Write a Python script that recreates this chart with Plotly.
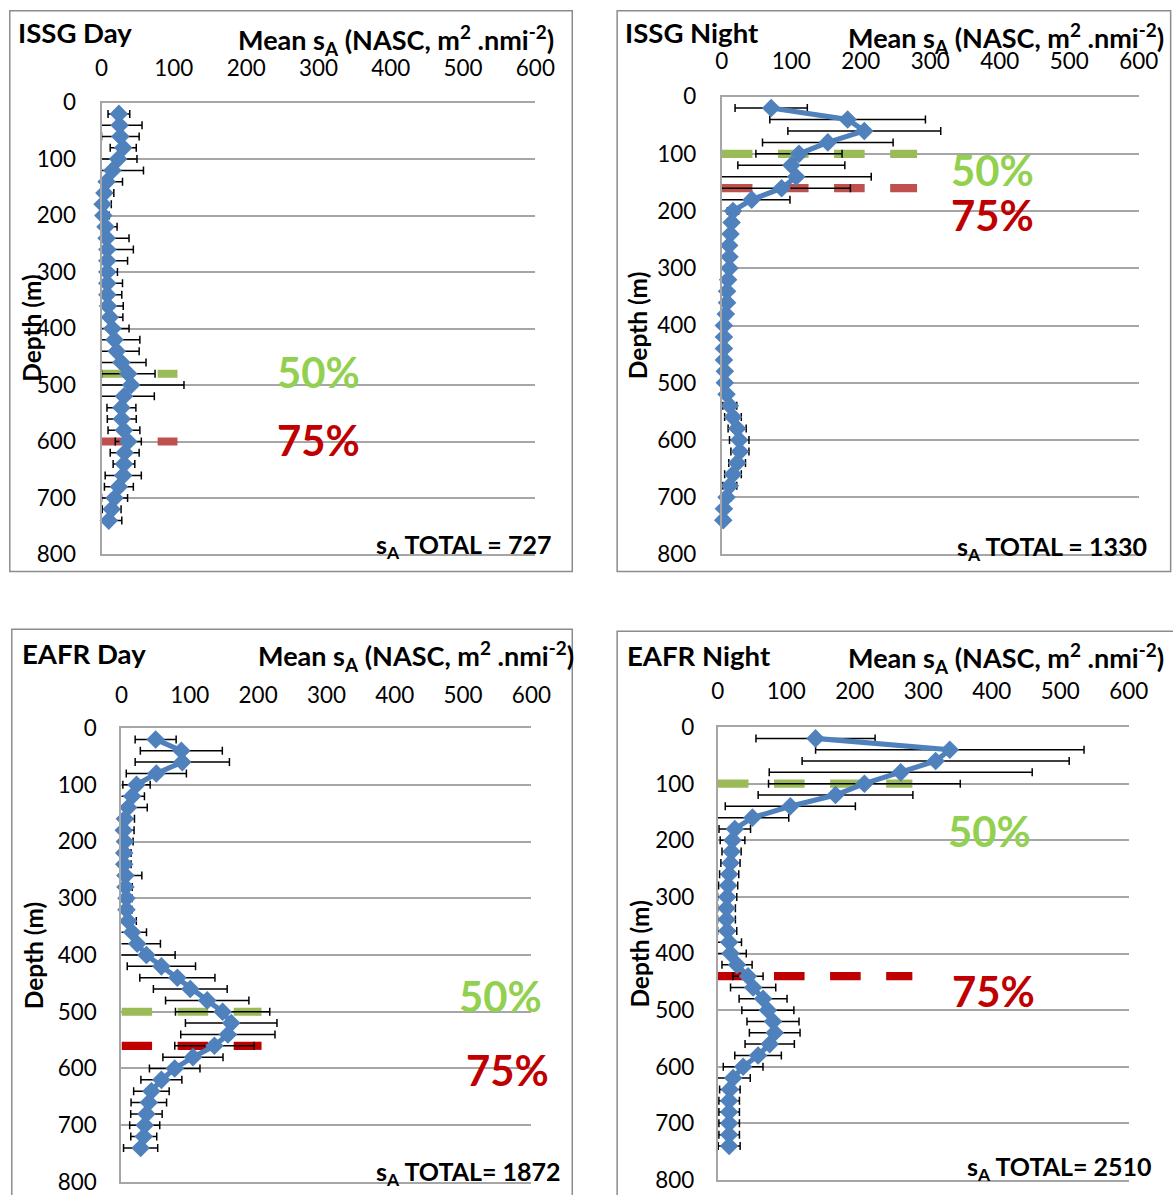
import plotly.graph_objects as go

# Figure canvas and the page-to-photo mapping of the rendered figure
W, H = 1192, 1207
S, OX, OY = 0.98, 5.2, 13.2

# Depth bins (m), 20 m steps
DEPTHS = list(range(20, 760, 20))

# Mean sA (NASC, m2 nmi-2) per depth bin and its error
ISSG_DAY_SA = [24, 25, 26, 30, 23, 15, 7, 4, 1.5, 2.5, 5.5, 7, 8, 8, 8, 8, 8, 9, 11.5, 15,
               18, 21, 27.5, 37, 41, 31, 27.5, 28, 31, 37, 32, 31, 30, 24, 18, 14, 10]
ISSG_DAY_ERR = [15, 31, 26, 18, 26, 43, 22, 13, 12, 8, 16, 31, 36, 28, 14, 21, 20, 21, 18, 23,
                35, 31, 34, 37, 73, 42, 20, 20, 22, 18, 20, 15, 25, 20, 18, 13, 18]

ISSG_NIGHT_SA = [71, 181, 205, 152.5, 111, 100, 107, 86, 43, 16, 14, 12.5, 10.5, 11, 11, 9, 7.5, 7.5, 5.7, 3,
                 3, 3, 3, 4.3, 4.3, 6.7, 11.5, 16, 22, 25, 26, 22, 16, 11.5, 6.7, 3, 2]
ISSG_NIGHT_ERR = [52, 112, 110, 94, 62, 77, 108, 99, 55, 8, 6, 5, 5, 5, 5, 4, 4, 4, 4, 4,
                  4, 4, 4, 4, 4, 6, 10, 12, 13, 14, 13, 12, 12, 10, 6, 3, 2]

EAFR_DAY_SA = [50, 87.6, 89, 51, 22, 15.6, 9.7, 5, 3.4, 5, 4, 4, 5.8, 5.8, 7.3, 7.3, 9.7, 15.6, 23, 36.5,
               58.4, 81.8, 100.7, 125.5, 148, 160.6, 155.7, 136, 104.6, 77.9, 58.4, 43.8, 40, 36.5, 34, 32.6, 28]
EAFR_DAY_ERR = [30, 60, 69, 44, 20, 18, 28, 14, 15, 12, 10, 10, 24, 10, 8, 8, 12, 21, 34, 42,
                50, 55, 54, 61, 69, 67, 69, 58, 44, 37, 30, 26, 26, 23, 22, 19, 25]

EAFR_NIGHT_SA = [142.6, 338.7, 318, 267, 214, 171.8, 105.8, 50.5, 24.7, 21.4, 20, 18.4, 16.5, 15, 13.6, 12.6, 12.6, 13.6, 16.5, 18.5,
                 28, 44, 51.5, 66, 73, 80.5, 83, 75.7, 58.7, 36.9, 22.3, 17.5, 16.5, 16.5, 16.5, 16.5, 16.5]
EAFR_NIGHT_ERR = [87, 196, 195, 192, 140, 113, 95, 53, 23, 18, 14, 14, 14, 14, 14, 13, 13, 14, 18, 23,
                  22, 22, 33, 35, 38, 38, 37, 36, 34, 29, 25, 15, 15, 15, 15, 15, 16]

PANEL_TITLES = ["ISSG Day", "ISSG Night", "EAFR Day", "EAFR Night"]
SA_TOTALS = ["727", "1330", "1872", "2510"]
TOTAL_SEP = [" = ", " = ", "= ", "= "]
DEPTH_50 = [480, 100, 500, 100]      # depth where 50 % of sA is reached
DEPTH_75 = [600, 160, 560, 440]      # depth where 75 % of sA is reached
MARKER_EXTENT = [105, 281, 205, 284]  # sA extent of the percentile markers
X_TICKS = [0, 100, 200, 300, 400, 500, 600]
Y_TICKS = [0, 100, 200, 300, 400, 500, 600, 700, 800]

SERIES = [(ISSG_DAY_SA, ISSG_DAY_ERR), (ISSG_NIGHT_SA, ISSG_NIGHT_ERR),
          (EAFR_DAY_SA, EAFR_DAY_ERR), (EAFR_NIGHT_SA, EAFR_NIGHT_ERR)]

# Layout of each panel, in photo pixels
PANELS = [
    dict(plot=(100, 102, 535, 555), box=(8, 10, 572, 572), title=(14, 32), axtitle=(395, 39),
         ylab=(29, 328), total=(553, 546), p50=(274, 372), p75=(274, 440), red="#C0504D",
         xlen=16, ylen=19),
    dict(plot=(722, 96, 1140, 555), box=(617, 10, 1172, 572), title=(623, 32), axtitle=(1007, 37),
         ylab=(637, 325), total=(1150, 548), p50=(950, 170), p75=(950, 215), red="#C0504D",
         xlen=17, ylen=19),
    dict(plot=(120, 729, 531, 1184), box=(10, 630, 572, 1215), title=(18, 654), axtitle=(415, 657),
         ylab=(32, 957), total=(563, 1175), p50=(456, 998), p75=(463, 1072), red="#C00000",
         xlen=14, ylen=18),
    dict(plot=(718, 728, 1130, 1182), box=(617, 632, 1190, 1215), title=(625, 656), axtitle=(1007, 659),
         ylab=(639, 955), total=(1155, 1170), p50=(947, 832), p75=(951, 993), red="#C00000",
         xlen=17, ylen=17),
]

FONT = "Lato, 'Open Sans', sans-serif"
BLUE = "#4F81BD"
GREEN_LINE = "#9BBB59"
GREEN_TEXT = "#92D050"
RED_TEXT = "#C00000"
GRID = "#A6A6A6"


def px(x):
    return ((x - OX) / S) / W


def py(y):
    return 1 - ((y - OY) / S) / H


def sz(v):
    return v / S


fig = go.Figure()
layout = dict(width=W, height=H, margin=dict(l=0, r=0, t=0, b=0),
              paper_bgcolor="white", plot_bgcolor="white", showlegend=False,
              font=dict(family=FONT, color="black"))
annotations = []
shapes = []

for i, (panel, (sa, err)) in enumerate(zip(PANELS, SERIES)):
    n = "" if i == 0 else str(i + 1)
    xa, ya = "x" + n, "y" + n
    x0, y0, x1, y1 = panel["plot"]

    layout["xaxis" + n] = dict(
        domain=[px(x0), px(x1)], anchor=ya, side="top", range=[0, 600],
        tickvals=X_TICKS, ticks="outside", ticklen=sz(panel["xlen"]), tickcolor="rgba(0,0,0,0)",
        tickfont=dict(size=sz(22), family=FONT), showgrid=False, zeroline=False,
        showline=True, linecolor=GRID, linewidth=1.5, mirror=True, fixedrange=True)
    layout["yaxis" + n] = dict(
        domain=[py(y1), py(y0)], anchor=xa, range=[800, 0],
        tickvals=Y_TICKS, ticks="outside", ticklen=sz(panel["ylen"]), tickcolor="rgba(0,0,0,0)",
        tickfont=dict(size=sz(22), family=FONT), showgrid=True, gridcolor=GRID, gridwidth=1.5,
        zeroline=False, showline=True, linecolor=GRID, linewidth=1.5, fixedrange=True)

    # 50 % and 75 % cumulative-sA depth markers
    for depth, color in ((DEPTH_50[i], GREEN_LINE), (DEPTH_75[i], panel["red"])):
        fig.add_trace(go.Scatter(
            x=[0, MARKER_EXTENT[i]], y=[depth, depth], xaxis=xa, yaxis=ya, mode="lines",
            line=dict(color=color, width=sz(8), dash="%.1fpx,%.1fpx" % (sz(30), sz(25))),
            hoverinfo="skip"))

    # error bars (clipped at the axis)
    fig.add_trace(go.Scatter(
        x=sa, y=DEPTHS, xaxis=xa, yaxis=ya, mode="markers",
        marker=dict(size=2, opacity=0), cliponaxis=True,
        error_x=dict(type="data", array=err, symmetric=True, color="black",
                     thickness=1.5, width=4)))

    # mean sA profile
    fig.add_trace(go.Scatter(
        x=sa, y=DEPTHS, xaxis=xa, yaxis=ya, mode="lines+markers", cliponaxis=False,
        line=dict(color=BLUE, width=sz(5)),
        marker=dict(symbol="diamond", size=sz(14), color=BLUE)))

    bx0, by0, bx1, by1 = panel["box"]
    shapes.append(dict(type="rect", xref="paper", yref="paper",
                       x0=px(bx0), x1=px(bx1), y0=py(by1), y1=py(by0),
                       line=dict(color="#8C8C8C", width=1.5), layer="below"))

    tx, ty = panel["title"]
    annotations.append(dict(x=px(tx), y=py(ty), xref="paper", yref="paper",
                            xanchor="left", yanchor="middle", showarrow=False,
                            text="<b>" + PANEL_TITLES[i] + "</b>", font=dict(size=sz(27))))
    ax, ay = panel["axtitle"]
    annotations.append(dict(x=px(ax), y=py(ay), xref="paper", yref="paper",
                            xanchor="center", yanchor="middle", showarrow=False,
                            text="<b>Mean s<sub>A</sub> (NASC, m<sup>2</sup> .nmi<sup>-2</sup>)</b>",
                            font=dict(size=sz(26.5))))
    lx, ly = panel["ylab"]
    annotations.append(dict(x=px(lx), y=py(ly), xref="paper", yref="paper",
                            xanchor="center", yanchor="middle", showarrow=False, textangle=-90,
                            text="<b>Depth (m)</b>", font=dict(size=sz(24))))
    sx, sy = panel["total"]
    annotations.append(dict(x=px(sx), y=py(sy), xref="paper", yref="paper",
                            xanchor="right", yanchor="middle", showarrow=False,
                            text="<b>s<sub>A</sub> TOTAL" + TOTAL_SEP[i] + SA_TOTALS[i] + "</b>",
                            font=dict(size=sz(24.5))))
    for (qx, qy), label, color in ((panel["p50"], "50%", GREEN_TEXT), (panel["p75"], "75%", RED_TEXT)):
        annotations.append(dict(x=px(qx), y=py(qy), xref="paper", yref="paper",
                                xanchor="left", yanchor="middle", showarrow=False,
                                text="<b>" + label + "</b>", font=dict(size=sz(41), color=color)))

layout["annotations"] = annotations
layout["shapes"] = shapes
fig.update_layout(**layout)
fig.write_html("out.html", config={"displayModeBar": False})
